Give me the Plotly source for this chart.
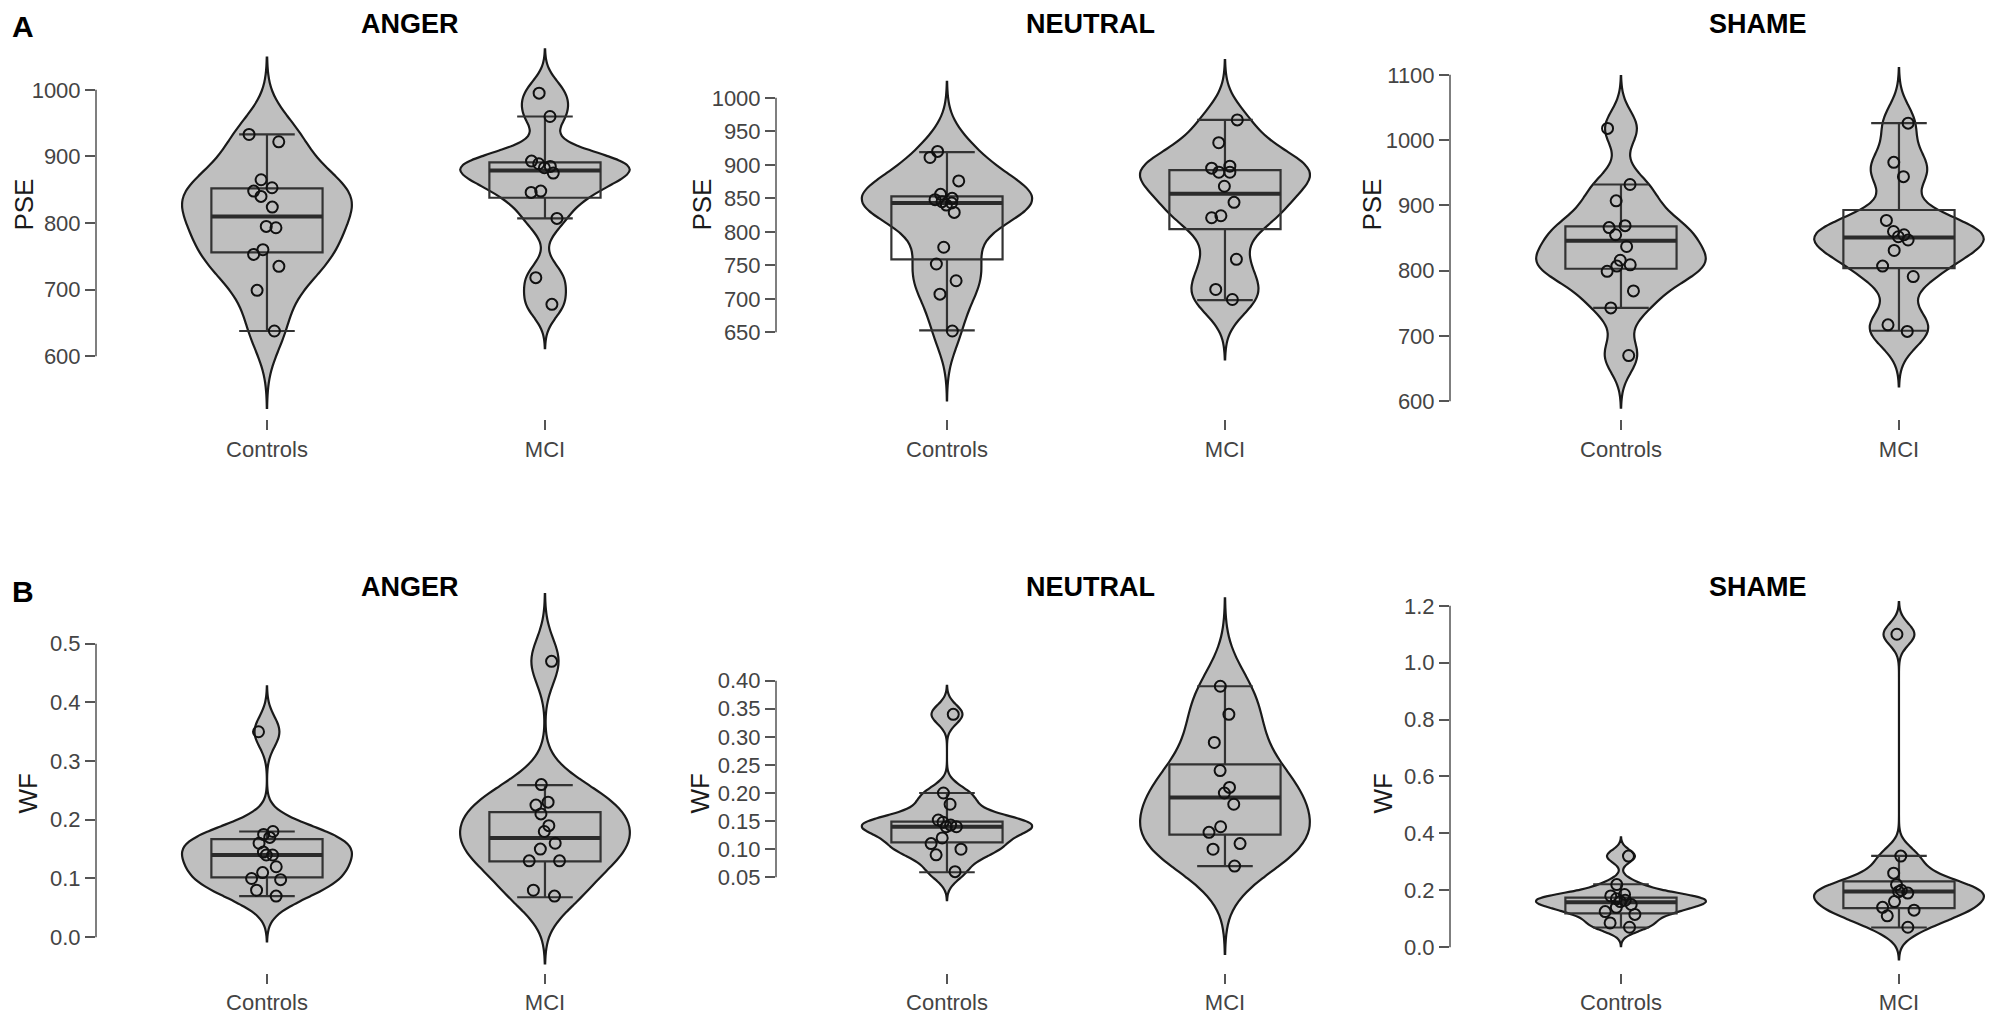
import numpy as np
import plotly.graph_objects as go

groups = ["Controls", "MCI"]
emotions = ["ANGER", "NEUTRAL", "SHAME"]

# Panel A - PSE values per participant
pse_anger_controls = [933, 922, 865, 853, 848, 840, 824, 795, 793, 760, 753, 735, 699, 638]
pse_anger_mci = [995, 960, 893, 889, 885, 883, 875, 848, 846, 807, 718, 678]
pse_neutral_controls = [920, 911, 876, 856, 850, 848, 845, 843, 840, 829, 777, 752, 727, 707, 652]
pse_neutral_mci = [967, 933, 898, 895, 889, 889, 868, 844, 824, 821, 759, 714, 699]
pse_shame_controls = [1018, 932, 907, 869, 866, 855, 837, 816, 809, 807, 799, 769, 743, 670]
pse_shame_mci = [1026, 966, 944, 877, 860, 855, 852, 847, 831, 807, 791, 717, 707]

# Panel B - WF values per participant
wf_anger_controls = [0.35, 0.18, 0.175, 0.17, 0.16, 0.145, 0.14, 0.14, 0.12, 0.11, 0.10, 0.098, 0.08, 0.07]
wf_anger_mci = [0.47, 0.26, 0.23, 0.225, 0.21, 0.19, 0.18, 0.16, 0.15, 0.13, 0.13, 0.08, 0.07]
wf_neutral_controls = [0.34, 0.20, 0.18, 0.152, 0.148, 0.143, 0.14, 0.14, 0.12, 0.11, 0.10, 0.09, 0.06]
wf_neutral_mci = [0.39, 0.34, 0.29, 0.24, 0.21, 0.20, 0.18, 0.14, 0.13, 0.11, 0.10, 0.07]
wf_shame_controls = [0.32, 0.22, 0.185, 0.18, 0.17, 0.165, 0.16, 0.15, 0.14, 0.125, 0.115, 0.085, 0.07]
wf_shame_mci = [1.10, 0.32, 0.26, 0.22, 0.20, 0.195, 0.19, 0.16, 0.14, 0.13, 0.11, 0.07]

# box summaries as drawn: lower whisker, Q1, median, Q3, upper whisker
pse_anger_controls_box = [638, 756, 810, 852, 933]
pse_anger_mci_box = [807, 838, 879, 891, 960]
pse_neutral_controls_box = [653, 759, 843, 853, 919]
pse_neutral_mci_box = [698, 804, 857, 892, 967]
pse_shame_controls_box = [743, 803, 846, 868, 932]
pse_shame_mci_box = [708, 804, 851, 893, 1026]
wf_anger_controls_box = [0.070, 0.102, 0.140, 0.167, 0.180]
wf_anger_mci_box = [0.068, 0.129, 0.169, 0.213, 0.259]
wf_neutral_controls_box = [0.059, 0.112, 0.140, 0.149, 0.200]
wf_neutral_mci_box = [0.070, 0.126, 0.192, 0.251, 0.390]
wf_shame_controls_box = [0.069, 0.119, 0.158, 0.174, 0.221]
wf_shame_mci_box = [0.069, 0.137, 0.196, 0.231, 0.321]

# axis ticks
pse_anger_ticks = [600, 700, 800, 900, 1000]
pse_neutral_ticks = [650, 700, 750, 800, 850, 900, 950, 1000]
pse_shame_ticks = [600, 700, 800, 900, 1000, 1100]
wf_anger_ticks = [0.0, 0.1, 0.2, 0.3, 0.4, 0.5]
wf_neutral_ticks = [0.05, 0.10, 0.15, 0.20, 0.25, 0.30, 0.35, 0.40]
wf_shame_ticks = [0.0, 0.2, 0.4, 0.6, 0.8, 1.0, 1.2]

panels = [
    ("PSE", [pse_anger_controls, pse_anger_mci], [pse_anger_controls_box, pse_anger_mci_box], pse_anger_ticks, ".0f", [505.6, 1074.9]),
    ("PSE", [pse_neutral_controls, pse_neutral_mci], [pse_neutral_controls_box, pse_neutral_mci_box], pse_neutral_ticks, ".0f", [520.4, 1086.4]),
    ("PSE", [pse_shame_controls, pse_shame_mci], [pse_shame_controls_box, pse_shame_mci_box], pse_shame_ticks, ".0f", [572.5, 1153.5]),
    ("WF", [wf_anger_controls, wf_anger_mci], [wf_anger_controls_box, wf_anger_mci_box], wf_anger_ticks, ".1f", [-0.0612, 0.602]),
    ("WF", [wf_neutral_controls, wf_neutral_mci], [wf_neutral_controls_box, wf_neutral_mci_box], wf_neutral_ticks, ".2f", [-0.1205, 0.5723]),
    ("WF", [wf_shame_controls, wf_shame_mci], [wf_shame_controls_box, wf_shame_mci_box], wf_shame_ticks, ".1f", [-0.0912, 1.2772]),
]

# page is 2000x1023 but the body keeps its 8px default margin
PAGE_MARGIN = 8
W, H = 2000 - 2 * PAGE_MARGIN, 1023 - 2 * PAGE_MARGIN
FONT = "Liberation Sans, Arial, sans-serif"
TICKGREY = "#555555"
LABELGREY = "#444444"

col_axis_px = [96, 776, 1450]
row_dom_px = [(40, 420), (585, 975)]
xspan_px = 536
xrange_ = [-0.615, -0.615 + 536 / 278]


def px(x):
    return (x - PAGE_MARGIN) / W


def py(y):
    return 1 - (y - PAGE_MARGIN) / H


def nrd0(v):
    # R's default bandwidth (bw.nrd0), used by the violin plots
    v = np.asarray(v, dtype=float)
    q75, q25 = np.percentile(v, [75, 25])
    lo = min(v.std(ddof=1), (q75 - q25) / 1.34)
    if lo <= 0:
        lo = v.std(ddof=1)
    return 0.9 * lo * len(v) ** -0.2


fig = go.Figure()
layout_axes = {}
shapes = []
annotations = []

for i, (ytitle, series, boxes, ticks, fmt, yr) in enumerate(panels):
    row, col = divmod(i, 3)
    n = i + 1
    xa = "x" if n == 1 else f"x{n}"
    ya = "y" if n == 1 else f"y{n}"

    for g, vals, st in zip(groups, series, boxes):
        bw = nrd0(vals)
        fig.add_trace(go.Violin(
            x=[g] * len(vals), y=vals, xaxis=xa, yaxis=ya,
            points=False, box_visible=False, meanline_visible=False,
            width=0.61, bandwidth=bw, spanmode="manual",
            span=[min(vals) - 3 * bw, max(vals) + 3 * bw],
            fillcolor="#bfbfbf", opacity=1,
            line=dict(color="#1a1a1a", width=2.2),
            hoverinfo="skip", showlegend=False,
        ))
        lo, q1, med, q3, hi = st
        fig.add_trace(go.Box(
            x=[g], q1=[q1], median=[med], q3=[q3], lowerfence=[lo], upperfence=[hi],
            xaxis=xa, yaxis=ya, width=0.4, whiskerwidth=0.5, boxpoints=False,
            fillcolor="rgba(0,0,0,0)", line=dict(color="#333333", width=2.2),
            hoverinfo="skip", showlegend=False,
        ))
        # heavier median line
        fig.add_trace(go.Box(
            x=[g], q1=[med], median=[med], q3=[med], lowerfence=[med], upperfence=[med],
            xaxis=xa, yaxis=ya, width=0.4, whiskerwidth=0, boxpoints=False,
            fillcolor="rgba(0,0,0,0)", line=dict(color="#2b2b2b", width=4),
            hoverinfo="skip", showlegend=False,
        ))
        # jittered participant points
        fig.add_trace(go.Box(
            x=[g] * len(vals), y=vals, xaxis=xa, yaxis=ya,
            width=0.4, boxpoints="all", jitter=0.35, pointpos=0, whiskerwidth=0,
            fillcolor="rgba(0,0,0,0)", line=dict(color="rgba(0,0,0,0)", width=0),
            marker=dict(color="rgba(0,0,0,0)", size=11, line=dict(color="#111111", width=2)),
            hoverinfo="skip", showlegend=False,
        ))

    x0 = col_axis_px[col]
    top, bot = row_dom_px[row]
    layout_axes["xaxis" if n == 1 else f"xaxis{n}"] = dict(
        domain=[px(x0), px(x0 + xspan_px)], anchor=ya, range=xrange_,
        type="category", categoryorder="array", categoryarray=groups,
        showline=False, showgrid=False, zeroline=False,
        ticks="outside", ticklen=10, tickwidth=1.5, tickcolor=TICKGREY,
        tickfont=dict(family=FONT, size=22, color=LABELGREY),
    )
    layout_axes["yaxis" if n == 1 else f"yaxis{n}"] = dict(
        domain=[py(bot), py(top)], anchor=xa, range=yr,
        tickmode="array", tickvals=ticks, tickformat=fmt,
        showline=False, showgrid=False, zeroline=False,
        ticks="outside", ticklen=10, tickwidth=1.5, tickcolor=TICKGREY,
        tickfont=dict(family=FONT, size=22, color=LABELGREY),
    )
    shapes.append(dict(
        type="line", xref=f"{xa} domain", yref=ya, x0=0, x1=0,
        y0=ticks[0], y1=ticks[-1], line=dict(color=TICKGREY, width=1.5),
    ))

# panel titles, axis titles, panel letters
title_x_px = [410, 1090, 1758]
title_y_px = [24, 588]
ytitle_x_px = [[24, 702, 1372], [28, 700, 1383]]
ytitle_y_px = [205, 795]
for i, (ytitle, *_rest) in enumerate(panels):
    row, col = divmod(i, 3)
    annotations.append(dict(
        text=f"<b>{emotions[col]}</b>", xref="paper", yref="paper",
        x=px(title_x_px[col]), y=py(title_y_px[row]),
        xanchor="center", yanchor="middle", showarrow=False,
        font=dict(family=FONT, size=27, color="#000000"),
    ))
    annotations.append(dict(
        text=ytitle, xref="paper", yref="paper", textangle=-90,
        x=px(ytitle_x_px[row][col]), y=py(ytitle_y_px[row]),
        xanchor="center", yanchor="middle", showarrow=False,
        font=dict(family=FONT, size=26, color="#1a1a1a"),
    ))
# panel letters: pinned to the top-left corner of their rows
for letter, (lx, ly) in zip(["A", "B"], [(10, 8), (10, 574)]):
    annotations.append(dict(
        text=f"<b>{letter}</b>", xref="paper", yref="paper",
        x=px(lx), y=py(ly), xanchor="left", yanchor="top",
        showarrow=False, font=dict(family=FONT, size=30, color="#000000"),
    ))

fig.update_layout(
    width=W, height=H, margin=dict(l=0, r=0, t=0, b=0),
    paper_bgcolor="white", plot_bgcolor="white",
    violinmode="overlay", boxmode="overlay",
    shapes=shapes, annotations=annotations, showlegend=False,
    font=dict(family=FONT),
    **layout_axes,
)

fig.write_html("out.html")
